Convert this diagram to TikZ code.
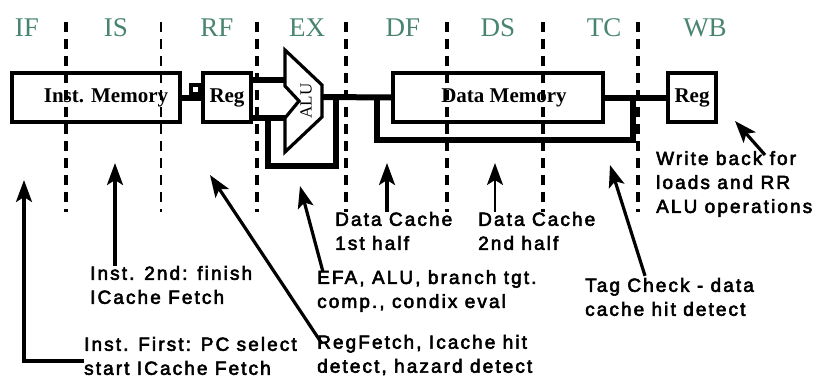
\documentclass[tikz,border=0pt]{standalone}
\usepackage{fontspec}
\setmainfont{Liberation Serif}
\newfontfamily\notefont[LetterSpace=11, FakeBold=3]{Liberation Sans}
\usetikzlibrary{arrows.meta, positioning, calc}
\definecolor{stagegreen}{RGB}{72,132,112}

\begin{document}
\begin{tikzpicture}[x=1pt, y=1pt,
    unit/.style={draw, line width=3.2pt, minimum height=49pt, inner sep=0pt, font=\fontsize{21}{24}\selectfont\bfseries},
    stage/.style={text=stagegreen, font=\fontsize{27}{30}\selectfont},
    stageline/.style={dash pattern=on 10pt off 7pt},
    wire/.style={line width=6pt},
    note/.style={anchor=west, align=left, inner sep=0pt, font=\notefont\fontsize{19}{24}\selectfont},
    pointer/.style={line width=3.2pt, -{Stealth[length=22pt, width=16pt, inset=5pt]}}]
      \useasboundingbox (0,0) rectangle (822,-378);

      % Pipeline stage names and borders
      \foreach \name/\x in {IF/27, IS/116, RF/217, EX/307, DF/403, DS/498, TC/604, WB/705}
        \node[stage] (st-\name) at (\x,-28) {\name};
      \foreach \x/\w in {66/3.5, 161/2.5, 257/3.5, 346/3.5, 447/3.5, 543/3.5, 638/3.5}
        \draw[stageline, line width=\w pt] (\x,-22) -- (\x,-212);

      % Units
      \node[unit, minimum width=168pt] (imem) at (96,-97.5) {\hspace*{20pt}Inst. Memory};
      \node[unit, minimum width=48pt] (rf) at (227,-97.5) {Reg};
      \node[unit, minimum width=210pt] (dmem) at (498,-97.5) {\hspace*{12pt}Data Memory};
      \node[unit, minimum width=48pt] (wb) at (692,-97.5) {Reg};

      % ALU
      \draw[line width=3.2pt] (285,-50) -- (322,-85) -- (322,-117) -- (285,-152) -- (285,-118) -- (299,-101) -- (285,-86) -- cycle;
      \node[rotate=90, font=\fontsize{17}{17}\selectfont] (alu) at (306,-101) {ALU};
      \coordinate (aluA) at (285,-80);
      \coordinate (aluB) at (285,-118);
      \coordinate (aluout) at (322,-97);

      % Data paths
      \draw[wire] (imem.east) -- (rf.west);
      \draw[line width=4pt] (191,-85) rectangle (200,-94);
      \draw[wire] (rf.east |- aluA) -- (aluA);
      \draw[wire] (rf.east |- aluB) -- (aluB);
      \draw[wire] (aluout) -- (dmem.west);
      \draw[wire] (dmem.east) -- (wb.west);

      % Forwarding loops
      \draw[wire] (336,-97) -- (336,-166) -- (268,-166) -- (268,-118);
      \draw[wire] (377,-97) -- (377,-140) -- (633,-140) -- (633,-97);

      % Notes
      \node[note] (n1) at (84,-356) {Inst. First: PC select\\start ICache Fetch};
      \node[note] (n2) at (90,-285) {Inst. 2nd: finish\\ICache Fetch};
      \node[note] (n3) at (317,-355) {RegFetch, Icache hit\\detect, hazard detect};
      \node[note] (n4) at (317,-291) {EFA, ALU, branch tgt.\\comp., condix eval};
      \node[note] (n5) at (335,-231) {Data Cache\\1st half};
      \node[note] (n6) at (478,-231) {Data Cache\\2nd half};
      \node[note] (n7) at (585,-297) {Tag Check - data\\cache hit detect};
      \node[note] (n8) at (656,-184) {Write back for\\loads and RR\\ALU operations};

      % Pointers
      \coordinate (t1) at (24,-180);
      \coordinate (t2) at (115,-163);
      \coordinate (t3) at (210,-175);
      \coordinate (t4) at (300,-186);
      \coordinate (t5) at (387,-163);
      \coordinate (t6) at (495,-163);
      \coordinate (t7) at (610,-165);
      \coordinate (t8) at (735,-121);
      \draw[pointer] ([yshift=-5pt]n1.west) -| (t1);
      \draw[pointer] (t2 |- n2.north) -- (t2);
      \draw[pointer] ($(n3.north west)+(5,-9)$) -- (t3);
      \draw[pointer] ($(n4.north west)+(6,-2)$) -- (t4);
      \draw[pointer] (t5 |- n5.north) -- (t5);
      \draw[pointer, line width=2.2pt] (t6 |- n6.north) -- (t6);
      \draw[pointer] ($(n7.north west)+(60,2)$) -- (t7);
      \draw[pointer] ($(n8.north west)+(109,-4)$) -- (t8);
    \end{tikzpicture}
\end{document}
